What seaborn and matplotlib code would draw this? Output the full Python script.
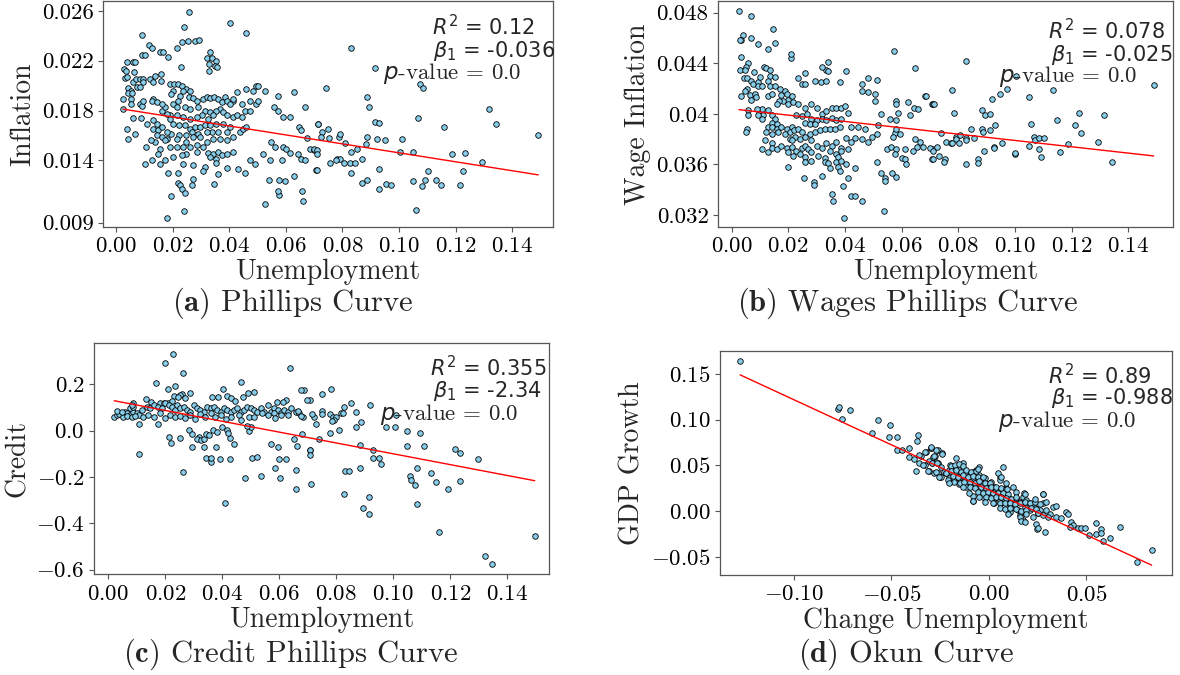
import numpy as np
import matplotlib
matplotlib.use("Agg")
import matplotlib.pyplot as plt
import seaborn as sns

# (unemployment, inflation)
phillips_pts = [
    (.0259,.0259),(.0404,.0250),(.0240,.0247),(.0461,.0242),(.0091,.0241),(.0233,.0235),(.0255,.0236),(.0280,.0236),(.0294,.0237),(.0115,.0233),
    (.0126,.0230),(.0214,.0230),(.0155,.0227),(.0167,.0227),(.0184,.0223),(.0091,.0225),(.0104,.0225),(.0333,.0227),(.0320,.0222),(.0341,.0222),
    (.0355,.0220),(.0329,.0217),(.0350,.0216),(.0328,.0212),(.0357,.0215),(.0040,.0219),(.0059,.0219),(.0067,.0219),(.0029,.0213),(.0036,.0212),
    (.0065,.0211),(.0031,.0206),(.0038,.0207),(.0059,.0203),(.0069,.0205),(.0085,.0205),(.0096,.0205),(.0120,.0205),(.0044,.0198),(.0053,.0196),
    (.0044,.0194),(.0055,.0194),(.0025,.0189),(.0053,.0189),(.0054,.0185),(.0084,.0185),(.0091,.0184),(.0076,.0199),(.0085,.0199),(.0096,.0203),
    (.0228,.0215),(.0160,.0209),(.0159,.0204),(.0132,.0203),(.0139,.0208),
    (.0191,.0201),(.0205,.0201),(.0220,.0201),(.0235,.0200),(.0249,.0197),(.0261,.0196),(.0238,.0196),(.0202,.0196),(.0196,.0193),(.0226,.0192),
    (.0259,.0191),(.0273,.0190),(.0285,.0188),(.0220,.0188),(.0200,.0185),(.0216,.0183),(.0244,.0183),(.0261,.0181),(.0291,.0183),(.0308,.0189),
    (.0320,.0191),(.0332,.0190),(.0346,.0191),(.0361,.0189),(.0373,.0187),(.0384,.0191),(.0391,.0188),(.0414,.0188),(.0402,.0185),(.0369,.0181),
    (.0355,.0180),(.0379,.0179),(.0391,.0176),(.0414,.0175),(.0426,.0176),(.0314,.0180),(.0332,.0179),(.0344,.0176),(.0326,.0173),(.0304,.0176),
    (.0285,.0175),(.0261,.0173),(.0238,.0175),(.0214,.0176),(.0191,.0176),(.0179,.0177),(.0161,.0180),(.0173,.0183),(.0132,.0189),(.0126,.0188),
    (.0144,.0187),(.0161,.0185),(.0191,.0173),(.0202,.0169),(.0224,.0168),(.0244,.0168),(.0261,.0165),(.0279,.0167),(.0296,.0167),(.0314,.0168),
    (.0332,.0168),(.0355,.0169),(.0379,.0169),(.0402,.0167),(.0391,.0163),(.0361,.0163),(.0338,.0163),(.0320,.0163),(.0291,.0161),(.0267,.0163),
    (.0249,.0160),(.0224,.0160),(.0196,.0161),(.0179,.0163),(.0144,.0169),(.0132,.0165),(.0149,.0164),(.0161,.0167),(.0132,.0172),(.0144,.0160),
    (.0161,.0159),(.0179,.0157),(.0214,.0157),(.0249,.0155),(.0273,.0159),(.0296,.0159),(.0320,.0155),(.0344,.0157),(.0367,.0157),(.0391,.0156),
    (.0414,.0159),(.0438,.0163),(.0449,.0165),(.0461,.0167),(.0444,.0175),(.0455,.0180),(.0473,.0180),(.0496,.0185),(.0502,.0188),(.0473,.0188),
    (.0485,.0196),(.0461,.0197),(.0496,.0200),(.0426,.0195),(.0414,.0189),(.0444,.0185),(.0138,.0155),(.0155,.0149),(.0173,.0156),(.0191,.0151),
    (.0214,.0151),(.0238,.0151),(.0261,.0151),(.0285,.0152),(.0308,.0151),(.0326,.0146),(.0344,.0145),(.0361,.0147),(.0373,.0144),(.0391,.0145),
    (.0353,.0141),(.0332,.0143),(.0285,.0147),(.0249,.0145),(.0232,.0144),(.0202,.0143),(.0149,.0145),(.0126,.0140),(.0155,.0137),(.0173,.0140),
    (.0238,.0137),(.0273,.0136),(.0314,.0135),(.0355,.0138),(.0391,.0134),(.0414,.0147),(.0432,.0133),(.0455,.0130),(.0473,.0140),(.0491,.0137),
    (.0520,.0145),(.0549,.0155),(.0561,.0151),(.0591,.0151),(.0614,.0146),(.0644,.0145),(.0655,.0141),(.0667,.0140),(.0585,.0140),(.0544,.0140),(.0602,.0149),
    (.0220,.0130),(.0185,.0130),(.0102,.0137),(.0273,.0125),(.0267,.0120),(.0308,.0131),(.0347,.0121),(.0359,.0129),(.0218,.0122),(.0226,.0120),
    (.0235,.0117),(.0245,.0114),(.0193,.0111),(.0240,.0099),(.0180,.0094),(.0528,.0105),(.0540,.0124),(.0576,.0124),(.0596,.0123),(.0628,.0127),
    (.0658,.0115),(.0661,.0107),(.0576,.0112),(.0573,.0115),(.0526,.0196),(.0502,.0200),(.0573,.0192),(.0628,.0195),(.0667,.0183),(.0559,.0183),
    (.0573,.0180),(.0591,.0175),(.0614,.0175),(.0645,.0167),(.0652,.0164),(.0675,.0158),(.0714,.0169),(.0708,.0132),(.0685,.0149),(.0699,.0148),
    (.0040,.0165),(.0044,.0157),(.0067,.0161),(.0061,.0174),(.0088,.0174),(.0106,.0151),(.0122,.0156),(.0108,.0169),(.0026,.0181),(.0096,.0188),
    (.0829,.0230),(.0914,.0214),(.0741,.0198),(.1074,.0201),(.1086,.0198),(.0886,.0191),(.0895,.0183),(.1068,.0174),(.1317,.0181),(.1342,.0169),
    (.1492,.0160),(.1159,.0167),(.0914,.0171),(.0929,.0170),(.0714,.0169),(.0749,.0165),(.0729,.0163),(.0724,.0159),(.0753,.0158),(.0788,.0159),
    (.0792,.0161),(.0810,.0154),(.0888,.0159),(.0885,.0153),(.0921,.0157),(.0949,.0156),(.1009,.0157),(.0698,.0149),(.0712,.0148),(.0712,.0145),
    (.0853,.0149),(.0829,.0147),(.1003,.0147),(.1049,.0147),(.0780,.0141),(.0792,.0141),(.0776,.0140),(.0755,.0138),(.0804,.0138),(.0827,.0138),
    (.0845,.0138),(.0871,.0141),(.1188,.0145),(.1233,.0146),(.1292,.0139),(.0709,.0132),(.0829,.0130),(.0929,.0133),(.1103,.0131),(.1227,.0131),
    (.0871,.0122),(.0886,.0124),(.0929,.0117),(.0955,.0121),(.0973,.0120),(.1049,.0123),(.1092,.0124),(.1082,.0119),(.1132,.0124),(.1149,.0120),
    (.1214,.0120),(.1059,.0100),
]

# (unemployment, wage inflation)
wage_pts = [
    (.0026,.0481),(.0067,.0477),(.0146,.0467),(.0042,.0462),(.0034,.0458),(.0029,.0458),(.0067,.0460),(.0092,.0455),(.0155,.0456),(.0127,.0451),
    (.0035,.0445),(.0209,.0444),(.0059,.0440),(.0052,.0437),(.0031,.0435),(.0047,.0435),(.0080,.0433),(.0115,.0437),(.0121,.0436),(.0135,.0435),
    (.0135,.0430),(.0153,.0429),(.0129,.0426),(.0045,.0428),(.0056,.0428),(.0068,.0426),(.0076,.0424),(.0094,.0425),(.0100,.0429),(.0092,.0422),
    (.0053,.0420),(.0066,.0415),(.0068,.0411),(.0082,.0416),(.0085,.0413),(.0047,.0418),(.0035,.0414),(.0209,.0447),(.0339,.0441),(.0334,.0435),
    (.0341,.0434),(.0318,.0437),(.0405,.0434),(.0259,.0432),(.0235,.0428),(.0247,.0424),(.0259,.0424),(.0294,.0426),(.0315,.0425),(.0332,.0426),
    (.0383,.0425),(.0459,.0424),(.0482,.0428),(.0514,.0427),(.0461,.0418),(.0482,.0417),(.0506,.0416),(.0506,.0410),
    (.0108,.0422),(.0135,.0422),(.0153,.0422),(.0171,.0420),(.0188,.0418),(.0176,.0415),(.0194,.0416),(.0212,.0414),(.0198,.0411),(.0182,.0410),
    (.0129,.0414),(.0141,.0416),(.0167,.0410),(.0159,.0408),
    (.0106,.0404),(.0129,.0403),(.0112,.0399),(.0141,.0399),(.0153,.0396),(.0141,.0393),(.0159,.0392),
    (.0059,.0403),(.0091,.0404),(.0092,.0399),(.0059,.0399),(.0106,.0396),(.0053,.0388),(.0052,.0386),
    (.0129,.0390),(.0141,.0390),(.0159,.0388),(.0176,.0390),(.0194,.0388),(.0212,.0390),
    (.0123,.0386),(.0141,.0384),(.0165,.0386),(.0188,.0384),(.0206,.0386),(.0221,.0387),(.0235,.0388),(.0247,.0386),
    (.0206,.0380),(.0223,.0382),(.0241,.0380),(.0259,.0382),(.0276,.0384),(.0294,.0386),(.0312,.0387),(.0329,.0388),(.0347,.0388),(.0365,.0388),(.0382,.0390),
    (.0200,.0408),(.0218,.0409),(.0235,.0408),(.0259,.0405),(.0282,.0408),(.0300,.0405),(.0318,.0400),(.0335,.0402),(.0353,.0405),(.0370,.0405),(.0388,.0405),(.0400,.0406),(.0412,.0401),
    (.0229,.0399),(.0247,.0398),(.0265,.0400),(.0282,.0396),(.0300,.0395),(.0318,.0396),(.0335,.0395),(.0353,.0397),(.0370,.0395),(.0388,.0396),
    (.0259,.0393),(.0276,.0392),(.0294,.0392),
    (.0423,.0390),(.0447,.0390),(.0470,.0388),(.0435,.0381),(.0459,.0380),(.0482,.0378),(.0494,.0382),(.0512,.0384),
    (.0118,.0379),(.0106,.0372),(.0141,.0377),(.0141,.0373),(.0129,.0370),(.0159,.0372),(.0176,.0375),(.0194,.0373),(.0212,.0374),(.0229,.0371),(.0247,.0373),
    (.0259,.0375),(.0270,.0372),(.0282,.0379),(.0300,.0375),(.0318,.0373),(.0335,.0377),(.0353,.0375),(.0370,.0378),(.0388,.0373),(.0405,.0381),(.0423,.0378),
    (.0200,.0370),(.0218,.0367),(.0241,.0368),(.0259,.0366),(.0282,.0370),(.0306,.0367),(.0329,.0365),(.0347,.0371),(.0370,.0368),(.0388,.0371),(.0412,.0372),
    (.0259,.0362),(.0282,.0363),(.0200,.0358),
    (.0329,.0362),(.0341,.0361),(.0347,.0357),(.0376,.0366),(.0370,.0362),(.0376,.0358),(.0388,.0363),
    (.0318,.0351),(.0254,.0349),(.0292,.0346),(.0292,.0344),
    (.0381,.0355),(.0405,.0360),(.0412,.0349),(.0394,.0343),(.0435,.0357),
    (.0355,.0337),(.0359,.0331),(.0421,.0335),(.0435,.0335),(.0459,.0331),(.0397,.0318),(.0537,.0323),
    (.0512,.0362),(.0529,.0353),(.0541,.0349),(.0543,.0347),(.0565,.0353),(.0582,.0350),
    (.0547,.0372),(.0562,.0374),(.0582,.0372),(.0612,.0372),(.0576,.0368),(.0600,.0365),(.0612,.0364),(.0617,.0360),(.0641,.0371),(.0653,.0374),(.0664,.0378),(.0676,.0374),(.0647,.0380),
    (.0529,.0400),(.0559,.0396),(.0576,.0385),(.0594,.0384),(.0582,.0395),(.0579,.0388),(.0571,.0382),(.0579,.0410),(.0579,.0408),(.0588,.0401),
    (.0623,.0409),(.0629,.0399),(.0644,.0405),(.0659,.0404),(.0682,.0414),(.0706,.0408),(.0712,.0372),(.0706,.0364),(.0574,.0450),(.0647,.0436),
    (.0517,.0391),(.0212,.0379),
    (.0828,.0442),(.0779,.0419),(.0685,.0414),(.0711,.0408),(.0714,.0408),(.0786,.0401),
    (.0885,.0403),(.0896,.0399),(.0914,.0400),(.0920,.0412),(.0949,.0416),(.0973,.0420),(.1005,.0430),(.1049,.0413),(.1134,.0419),(.1058,.0392),
    (.1148,.0395),(.1227,.0401),(.1214,.0391),(.1233,.0385),(.1316,.0399),(.1490,.0423),
    (.0738,.0385),(.0756,.0378),(.0791,.0382),(.0791,.0380),(.0808,.0383),(.0828,.0381),(.0828,.0379),(.0846,.0388),(.0855,.0381),(.0885,.0388),
    (.0887,.0386),(.0914,.0387),(.0929,.0391),(.0955,.0377),(.1002,.0368),(.1049,.0375),(.1067,.0382),(.1072,.0379),(.1084,.0381),(.1102,.0381),
    (.1084,.0372),(.1093,.0366),(.1160,.0370),(.1188,.0376),(.1293,.0378),(.1342,.0362),
    (.0699,.0373),(.0711,.0371),(.0726,.0374),(.0732,.0367),(.0711,.0364),(.0753,.0364),(.0749,.0362),(.0776,.0377),(.0779,.0377),(.0802,.0377),
    (.0826,.0360),(.0871,.0364),(.0871,.0361),(.0891,.0371),(.0926,.0374),(.0926,.0373),(.1000,.0369),
]

# (unemployment, credit)
credit_pts = [
    (.0227,.331),(.0198,.291),(.0262,.250),(.0168,.207),(.0233,.193),(.0208,.181),(.0403,.181),(.0466,.209),(.0637,.269),(.0512,.165),
    (.0490,.161),(.0686,.176),(.0706,.132),(.0623,.132),(.0612,.125),(.0592,.124),
    (.0286,.161),(.0259,.158),(.0253,.154),(.0229,.150),(.0243,.144),(.0270,.140),
    (.0365,.147),(.0385,.147),(.0415,.150),(.0429,.140),(.0474,.144),(.0443,.129),
    (.0133,.135),(.0149,.125),(.0182,.118),(.0194,.118),(.0208,.121),(.0224,.129),
    (.0021,.058),(.0029,.068),(.0039,.072),(.0051,.060),(.0059,.082),(.0067,.078),(.0076,.068),(.0088,.082),(.0100,.075),(.0109,.068),
    (.0029,.086),(.0047,.082),(.0065,.063),(.0082,.058),(.0094,.063),(.0118,.089),(.0123,.060),
    (.0088,.118),(.0076,.096),(.0088,.104),(.0082,.111),(.0109,.027),
    (.0135,.104),(.0147,.096),(.0159,.111),(.0176,.104),(.0188,.096),(.0200,.118),(.0212,.111),(.0223,.104),(.0235,.089),(.0241,.111),
    (.0253,.096),(.0265,.104),(.0276,.089),(.0288,.082),(.0300,.111),(.0312,.096),(.0323,.089),(.0335,.082),(.0347,.104),(.0359,.096),
    (.0370,.104),(.0382,.089),(.0394,.082),(.0406,.096),(.0417,.089),(.0429,.082),(.0441,.089),(.0453,.096),(.0465,.082),(.0476,.089),
    (.0488,.104),(.0500,.096),(.0512,.089),(.0523,.082),(.0535,.096),(.0547,.082),(.0559,.111),(.0570,.082),(.0582,.096),(.0594,.089),
    (.0606,.075),(.0617,.089),(.0629,.082),(.0641,.096),(.0659,.082),(.0670,.075),(.0682,.060),
    (.0141,.068),(.0159,.058),(.0182,.075),(.0200,.053),(.0217,.068),(.0235,.058),(.0253,.063),(.0270,.053),(.0288,.068),(.0306,.049),
    (.0323,.072),(.0341,.060),(.0359,.075),(.0376,.058),(.0394,.068),(.0412,.049),(.0429,.060),(.0459,.068),(.0465,.046),(.0494,.058),
    (.0512,.058),(.0541,.075),(.0559,.068),(.0582,.075),(.0586,.053),(.0606,.068),(.0629,.068),(.0664,.086),(.0676,.063),
    (.0176,.027),(.0212,-.029),(.0220,-.052),(.0253,-.030),(.0282,.003),(.0294,-.014),(.0318,-.026),(.0312,-.037),(.0326,-.040),(.0337,-.034),
    (.0342,-.014),(.0353,-.017),(.0368,.003),(.0382,-.004),(.0400,.014),(.0418,.003),(.0427,-.033),(.0441,-.058),(.0421,-.009),
    (.0293,-.072),(.0337,-.069),(.0379,-.069),(.0343,-.118),(.0361,-.135),(.0359,-.119),(.0392,-.124),(.0427,-.124),
    (.0262,-.180),(.0480,-.206),(.0535,-.196),(.0503,-.119),(.0521,-.115),
    (.0570,-.058),(.0594,-.072),(.0600,-.124),(.0623,-.124),(.0585,-.160),(.0604,-.203),
    (.0653,-.037),(.0662,-.066),(.0659,-.170),(.0659,-.250),(.0679,-.016),(.0706,-.084),
    (.0494,0.0),(.0502,.014),(.0488,.020),(.0408,-.314),(.0108,-.101),
    (.0677,.176),(.0782,.178),(.0751,.158),(.0698,.132),(.0853,.121),(.0826,.101),(.0817,.078),(.0917,.111),
    (.0750,.086),(.0722,.060),(.0715,.072),(.0750,.072),(.0777,.072),(.0788,.058),(.0800,.060),(.0792,.046),(.0785,.043),(.0808,.003),
    (.0823,.078),(.0868,.082),(.0888,.039),(.0727,.027),(.0777,-.009),
    (.0870,.017),(.0975,.014),(.1005,.014),(.1049,.0),(.1095,-.010),(.1011,.068),(.0738,-.037),
    (.0883,-.060),(.1049,-.066),(.1107,-.065),(.0929,-.083),(.1215,-.079),(.1233,-.098),(.1297,-.124),
    (.0929,-.117),(.0950,-.117),(.0955,-.145),(.0884,-.163),(.0829,-.174),(.0843,-.174),
    (.0709,-.083),(.0709,-.105),(.0712,-.232),(.0828,-.275),(.0894,-.333),(.0913,-.358),(.0913,-.288),
    (.1057,-.196),(.1063,-.213),(.1075,-.235),(.1083,-.160),(.1083,-.315),(.1133,-.184),(.1151,-.223),(.1191,-.252),(.1235,-.216),
    (.1159,-.437),(.1321,-.542),(.1346,-.577),(.1496,-.453),
]

# (change in unemployment, GDP growth)
okun_pts = [
    (-.1274,.1642),(-.0774,.1117),(-.0767,.1142),(-.0709,.1106),(-.0753,.1011),(-.0569,.0993),(-.0505,.0945),(-.0599,.0850),(-.0509,.0810),(-.0471,.0807),
    (-.0365,.0828),(-.0368,.0766),(-.0469,.0668),(-.0444,.0668),(-.0409,.0690),(-.0409,.0588),(-.0384,.0573),(-.0358,.0522),(-.0375,.0438),(-.0349,.0602),
    (-.0320,.0646),(-.0295,.0690),(-.0260,.0668),(-.0274,.0598),(-.0291,.0536),(-.0260,.0529),(-.0247,.0485),(-.0281,.0420),(-.0260,.0420),(-.0250,.0376),
    (-.0307,.0442),(-.0329,.0500),
    (-.0296,.0686),(-.0270,.0668),(-.0240,.0631),(-.0288,.0595),(-.0270,.0540),(-.0291,.0522),(-.0305,.0551),
    (-.0168,.0584),(-.0134,.0522),(-.0199,.0504),(-.0228,.0431),(-.0245,.0376),
    (-.0219,.0412),(-.0202,.0449),(-.0185,.0412),(-.0168,.0431),(-.0151,.0449),(-.0134,.0412),(-.0116,.0431),(-.0099,.0394),(-.0082,.0431),(-.0065,.0449),
    (-.0048,.0394),(-.0202,.0358),(-.0176,.0339),(-.0151,.0358),(-.0125,.0376),(-.0108,.0321),(-.0082,.0358),(-.0056,.0339),(-.0039,.0303),(-.0022,.0358),
    (-.0014,.0266),(.0003,.0285),(.0021,.0248),(-.0031,.0230),(-.0005,.0212),(.0012,.0193),(.0029,.0266),(.0038,.0230),(.0055,.0193),(.0072,.0230),
    (.0089,.0248),(.0080,.0175),(.0098,.0157),(.0038,.0157),(.0055,.0120),(.0072,.0102),(.0106,.0120),(.0123,.0084),(.0140,.0139),(.0158,.0102),
    (.0175,.0157),(.0192,.0120),(.0209,.0084),(.0226,.0066),(.0115,.0047),(.0132,.0029),(.0149,.0011),(.0166,-.0007),(.0183,.0047),(.0106,-.0007),
    (.0209,.0011),(.0235,.0029),(.0252,-.0026),(.0260,.0011),(.0158,-.0044),(.0175,-.0099),(.0180,.0193),(.0072,.0478),(.0058,.0376),(-.0082,.0113),
    (.0286,-.0226),(.0247,-.0201),(.0277,.0182),(.0277,.0091),(.0329,.0047),(.0342,.0055),(.0312,-.0033),(.0346,-.0062),(.0372,-.0080),(.0397,-.0007),
    (.0406,-.0037),(.0423,-.0117),(.0431,-.0153),(.0457,-.0190),(.0474,-.0183),(.0491,-.0190),(.0414,-.0172),(.0514,-.0263),(.0551,-.0252),(.0548,-.0128),
    (.0574,-.0201),(.0577,-.0245),(.0585,-.0325),(.0620,-.0300),(.0671,-.0172),(.0760,-.0562),(.0834,-.0427),(-.0048,.0478),(-.0082,.0164),(-.0151,.0296),
    (-.0116,.0266),(-.0065,.0266),(-.0091,.0285),(.0055,.0339),(.0089,.0303),(.0140,.0212),(.0123,.0266),(.0175,.0084),(.0106,.0066),(.0029,.0084),
    (-.0031,.0157),(.0012,.0321),(.0046,.0412),
    (-.0296,.0697),(-.0325,.0642),(-.0279,.0602),(-.0240,.0624),(-.0356,.0613),(-.0336,.0503),(-.0291,.0529),(-.0267,.0529),(-.0313,.0441),(-.0270,.0430),
    (-.0253,.0368),(-.0219,.0412),(-.0193,.0492),(-.0171,.0503),(-.0154,.0514),(-.0133,.0492),(-.0193,.0441),(-.0168,.0449),(-.0142,.0430),(-.0116,.0449),
    (-.0090,.0430),(-.0065,.0441),(-.0055,.0456),(-.0185,.0383),(-.0159,.0376),(-.0133,.0394),(-.0108,.0376),(-.0082,.0383),(-.0056,.0376),(-.0030,.0376),
    (-.0211,.0339),(-.0176,.0321),(-.0150,.0303),(-.0125,.0321),(-.0099,.0321),(-.0073,.0310),(-.0048,.0332),(-.0022,.0303),(.0004,.0310),(-.0202,.0303),
    (-.0133,.0266),(-.0099,.0266),(-.0073,.0248),(-.0039,.0266),(-.0013,.0248),(.0012,.0266),(.0038,.0266),(.0064,.0248),(.0089,.0237),(-.0103,.0193),
    (-.0056,.0211),(-.0030,.0193),(-.0005,.0211),(.0021,.0193),(.0047,.0200),(.0072,.0193),(.0098,.0186),(-.0048,.0157),(-.0013,.0149),(.0012,.0138),
    (.0038,.0149),(.0064,.0157),(.0089,.0138),(.0115,.0127),(.0141,.0149),(-.0082,.0113),(-.0022,.0102),(.0021,.0091),(.0055,.0084),(.0081,.0091),
    (.0106,.0084),(.0132,.0076),(.0158,.0091),(.0184,.0102),(.0209,.0084),(.0235,.0102),(.0055,.0029),(.0081,.0018),(.0106,.0029),(.0141,.0018),
    (.0166,.0003),(.0192,.0011),(.0218,.0029),(.0243,.0018),(.0098,-.0033),(.0158,-.0063),(.0192,-.0033),(.0226,-.0063),(.0252,-.0019),(.0278,-.0044),
    (.0303,-.0070),(.0166,-.0106),(.0184,-.0117),(.0243,-.0143),(.0252,-.0190),(.0060,.0376),(.0093,.0237),(.0184,.0186),(.0235,.0127),(.0278,.0186),
    (.0295,.0102),(.0264,.0076),(.0295,.0011),
]

# fitted lines (intercept, slope) and the printed statistics
fit_lines = [(0.0182, -0.036), (0.0404, -0.025), (0.134, -2.34), (0.0232, -0.988)]
r2_text = ["0.12", "0.078", "0.355", "0.89"]
beta_text = ["-0.036", "-0.025", "-2.34", "-0.988"]
p_text = ["0.0", "0.0", "0.0", "0.0"]

x_labels = ["Unemployment", "Unemployment", "Unemployment", "Change Unemployment"]
y_labels = ["Inflation", "Wage Inflation", "Credit", "GDP Growth"]
captions = ["Phillips Curve", "Wages Phillips Curve", "Credit Phillips Curve", "Okun Curve"]
caption_tags = ["(a)", "(b)", "(c)", "(d)"]

unemp_ticks = [0.00, 0.02, 0.04, 0.06, 0.08, 0.10, 0.12, 0.14]
infl_ticks = [0.009, 0.014, 0.018, 0.022, 0.026]
wage_ticks = [0.032, 0.036, 0.04, 0.044, 0.048]
wage_tick_labels = ["0.032", "0.036", "0.04", "0.044", "0.048"]
credit_ticks = [-0.6, -0.4, -0.2, 0.0, 0.2]
okun_xticks = [-0.10, -0.05, 0.00, 0.05]
okun_yticks = [-0.05, 0.00, 0.05, 0.10, 0.15]

sns.set_theme(style="ticks")
plt.rcParams["font.family"] = ["cmr10", "DejaVu Sans"]
plt.rcParams["mathtext.fontset"] = "cm"
plt.rcParams["axes.formatter.use_mathtext"] = True
plt.rcParams["axes.edgecolor"] = "#555555"
plt.rcParams["xtick.color"] = "#555555"
plt.rcParams["ytick.color"] = "#555555"
plt.rcParams["xtick.labelcolor"] = "black"
plt.rcParams["ytick.labelcolor"] = "black"

fig = plt.figure(figsize=(11.8, 6.75), dpi=100)
boxes = [
    [0.0875, 0.6641, 0.3811, 0.3344],
    [0.6087, 0.6641, 0.3853, 0.3344],
    [0.0799, 0.1492, 0.3856, 0.3422],
    [0.6102, 0.1481, 0.3833, 0.3323],
]
limits = [
    ((-0.0045, 0.1544), (0.00866, 0.0268)),
    ((-0.0047, 0.1558), (0.03108, 0.04892)),
    ((-0.0049, 0.1547), (-0.620, 0.377)),
    ((-0.1377, 0.0940), (-0.070, 0.1755)),
]
text_pos = [
    (0.731, 0.733, 0.622, 0.888, 0.780, 0.680),
    (0.726, 0.732, 0.617, 0.871, 0.763, 0.664),
    (0.738, 0.744, 0.628, 0.895, 0.793, 0.690),
    (0.726, 0.731, 0.615, 0.890, 0.788, 0.686),
]
caption_xy = [(0.248, 0.551), (0.769, 0.551), (0.246, 0.030), (0.768, 0.030)]

all_pts = [phillips_pts, wage_pts, credit_pts, okun_pts]
for i, pts in enumerate(all_pts):
    ax = fig.add_axes(boxes[i])
    arr = np.array(pts)
    sns.scatterplot(x=arr[:, 0], y=arr[:, 1], ax=ax, color="skyblue",
                    edgecolor="black", s=16, linewidth=0.6, zorder=2)
    b0, b1 = fit_lines[i]
    xs = np.array([arr[:, 0].min(), arr[:, 0].max()])
    ax.plot(xs, b0 + b1 * xs, color="red", lw=1.0, zorder=3)

    ax.set_xlim(*limits[i][0])
    ax.set_ylim(*limits[i][1])
    if i < 3:
        ax.set_xticks(unemp_ticks)
    else:
        ax.set_xticks(okun_xticks)
    if i == 0:
        ax.set_yticks(infl_ticks, [f"{v:.3f}" for v in infl_ticks])
    elif i == 1:
        ax.set_yticks(wage_ticks, wage_tick_labels)
    elif i == 2:
        ax.set_yticks(credit_ticks)
    else:
        ax.set_yticks(okun_yticks)
    ax.tick_params(labelsize=16.5, length=3.5, width=0.8)
    ax.set_xlabel(x_labels[i], fontsize=20, labelpad=2)
    ax.set_ylabel(y_labels[i], fontsize=20, labelpad=4)
    for sp in ax.spines.values():
        sp.set_linewidth(0.9)

    tx1, tx2, tx3, ty1, ty2, ty3 = text_pos[i]
    ax.text(tx1, ty1, r"$R^2$ = " + r2_text[i], transform=ax.transAxes, fontsize=15,
            family="DejaVu Sans", math_fontfamily="dejavusans", va="center", ha="left")
    ax.text(tx2, ty2, r"$\beta_1$ = " + beta_text[i], transform=ax.transAxes, fontsize=15,
            family="DejaVu Sans", math_fontfamily="dejavusans", va="center", ha="left")
    ax.text(tx3, ty3, r"$p$-value = " + p_text[i], transform=ax.transAxes, fontsize=16.5,
            family=["cmr10", "DejaVu Sans"], math_fontfamily="dejavusans", va="center", ha="left")

    cx, cy = caption_xy[i]
    fig.text(cx, cy, r"$\mathbf{" + caption_tags[i] + "}$ " + captions[i],
             fontsize=22, ha="center", va="center")

fig.savefig("out.png", dpi=100)
